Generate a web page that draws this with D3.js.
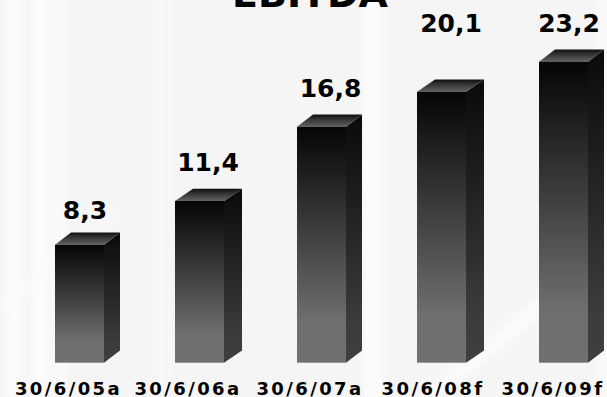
<!DOCTYPE html>
<html><head><meta charset="utf-8">
<script src="https://cdnjs.cloudflare.com/ajax/libs/d3/7.8.5/d3.min.js"></script>
<style>html,body{margin:0;padding:0;background:#f5f5f5;overflow:hidden}svg{display:block}text{font-family:"DejaVu Sans",sans-serif;font-weight:bold;fill:#000}</style>
</head><body><svg id="c" width="607" height="397"></svg>
<script>
const categories=["30/6/05a","30/6/06a","30/6/07a","30/6/08f","30/6/09f"];
const values=[8.3,11.4,16.8,20.1,23.2];
const valueLabels=["8,3","11,4","16,8","20,1","23,2"];
const title="EBITDA";

const W=607,H=397,base=362.7,barW=49,dy=12.3;
const barLefts=[55,175,297,417,539];
const depths=[16,18,16,18,16];
const barTops=[244.7,201,126.7,91.7,61.7];
const labelCx=[85,208,330.5,451,569];
const labelBase=[219,171,97,32,32];
const catCx=[68.5,188,310,433,553];

const svg=d3.select("#c");
const defs=svg.append("defs");
function grad(id,stops){
  const g=defs.append("linearGradient").attr("id",id).attr("x1",0).attr("y1",0).attr("x2",0).attr("y2",1);
  stops.forEach(s=>g.append("stop").attr("offset",s[0]).attr("stop-color",s[1]));
}
grad("front",[[0,"#050505"],[0.82,"#6e6e6e"],[1,"#707070"]]);
grad("side",[[0,"#0a0a0a"],[0.85,"#3c3c3c"],[1,"#3e3e3e"]]);
grad("top",[[0,"#0c0c0c"],[0.3,"#2c2c2c"],[1,"#626262"]]);
defs.append("filter").attr("id","soft").attr("x","-50%").attr("width","200%").attr("y","-20%").attr("height","140%")
  .append("feGaussianBlur").attr("stdDeviation",5);

const bg=svg.append("g").attr("filter","url(#soft)").attr("fill","#fff").attr("opacity",.75);
[[8,12],[33,14],[55,10],[160,6],[364,18],[600,8]].forEach(d=>bg.append("rect").attr("x",d[0]).attr("y",-20).attr("width",d[1]).attr("height",H+40));
bg.append("path").attr("d","M420 397L560 280L600 250L600 262L570 292L440 397Z");
bg.append("path").attr("d","M0 300L110 210L120 216L0 320Z").attr("opacity",.6);

const xPos=d3.scaleOrdinal().domain(categories).range(barLefts);
const y=d3.scaleLinear().domain([0,...values]).range([base,...barTops]);

const bars=svg.selectAll("g.bar").data(values).join("g").attr("class","bar")
  .attr("transform",(d,i)=>`translate(${xPos(categories[i])},0)`);
bars.append("path").attr("fill","url(#side)")
  .attr("d",(d,i)=>`M${barW} ${y(d)}L${barW+depths[i]} ${y(d)-dy}L${barW+depths[i]} ${base-dy}L${barW} ${base}Z`);
bars.append("path").attr("fill","url(#top)")
  .attr("d",(d,i)=>`M0 ${y(d)}L${depths[i]} ${y(d)-dy}L${barW+depths[i]} ${y(d)-dy}L${barW} ${y(d)}Z`);
bars.append("rect").attr("fill","url(#front)").attr("x",0).attr("width",barW)
  .attr("y",d=>y(d)).attr("height",d=>base-y(d));

svg.append("text").attr("x",310).attr("y",7).attr("text-anchor","middle").attr("font-size",38).text(title);
svg.selectAll("text.val").data(valueLabels).join("text").attr("class","val")
  .attr("x",(d,i)=>labelCx[i]).attr("y",(d,i)=>labelBase[i]).attr("text-anchor","middle").attr("font-size",25).text(d=>d);
svg.selectAll("text.cat").data(categories).join("text").attr("class","cat")
  .attr("x",(d,i)=>catCx[i]).attr("y",395).attr("text-anchor","middle").attr("font-size",18).attr("letter-spacing",2.4).text(d=>d);
</script></body></html>
